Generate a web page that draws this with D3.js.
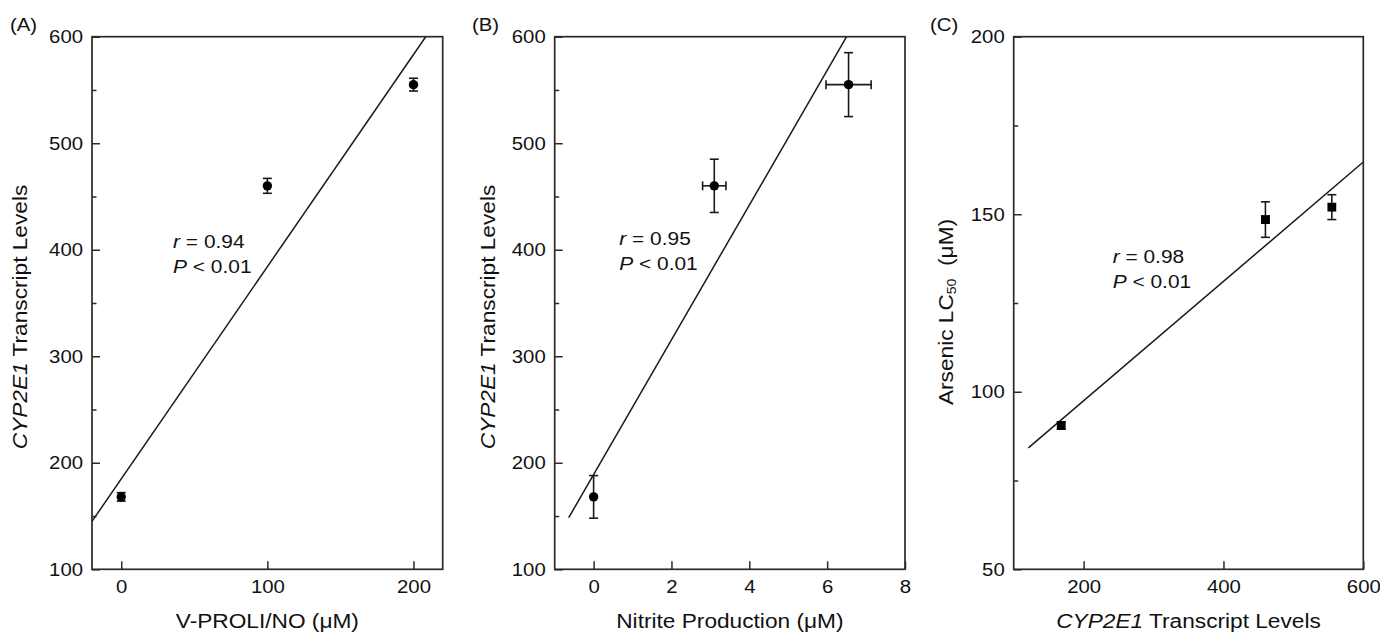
<!DOCTYPE html>
<html><head><meta charset="utf-8">
<script src="https://cdn.jsdelivr.net/npm/d3@7"></script>
<style>
html,body{margin:0;padding:0;background:#fff;}
svg{display:block;font-family:"Liberation Sans",Arial,Helvetica,sans-serif;}
</style></head>
<body>
<svg id="chart" width="1380" height="634"></svg>
<script>
// ---------- DATA ----------
const panelLabels = ["(A)", "(B)", "(C)"];

// Panel A: CYP2E1 vs V-PROLI/NO
const aX = [0, 100, 200];
const aY = [168, 460, 555];
const aYErr = [4, 7, 6];
const aXErr = [0, 0, 0];
const aFit = [[-20, 145], [208.4, 600]];
const aXTicks = [0, 100, 200];
const aYTicks = [100, 200, 300, 400, 500, 600];
const aYMinor = [150, 250, 350, 450, 550];
const aStats = ["0.94", "0.01"];

// Panel B: CYP2E1 vs Nitrite production
const bX = [0, 3.1, 6.55];
const bY = [168, 460, 555];
const bYErr = [20, 25, 30];
const bXErr = [0, 0.3, 0.58];
const bFit = [[-0.64, 148.5], [6.5, 600]];
const bXTicks = [0, 2, 4, 6, 8];
const bYTicks = [100, 200, 300, 400, 500, 600];
const bYMinor = [150, 250, 350, 450, 550];
const bStats = ["0.95", "0.01"];

// Panel C: Arsenic LC50 vs CYP2E1
const cX = [168, 460, 555];
const cY = [90.5, 148.5, 152];
const cYErr = [1, 5, 3.5];
const cXErr = [0, 5, 0];
const cFit = [[121, 84.2], [600, 164.7]];
const cXTicks = [200, 400, 600];
const cYTicks = [50, 100, 150, 200];
const cYMinor = [75, 125, 175];
const cStats = ["0.98", "0.01"];

// ---------- LAYOUT / STYLE ----------
const INK = "#111";
const LINE = "#2a2a2a";
const SX = 1.1;   // horizontal glyph stretch of the original typeface
const panels = [
  {label: panelLabels[0], xs: aX, ys: aY, ye: aYErr, xe: aXErr, fit: aFit, xt: aXTicks, yt: aYTicks, ym: aYMinor, stats: aStats,
   left: 92, right: 442.7, xd: [-20, 220], yd: [100, 600], marker: "circle",
   xTitle: [{t: "V-PROLI/NO (\u03bcM)"}],
   yTitle: [{t: "CYP2E1", i: true}, {t: " Transcript Levels"}], yTitleX: 27, yTitleY: 317,
   ann: [35.5, 401.6, 378.2], labelX: 10},
  {label: panelLabels[1], xs: bX, ys: bY, ye: bYErr, xe: bXErr, fit: bFit, xt: bXTicks, yt: bYTicks, ym: bYMinor, stats: bStats,
   left: 554.7, right: 905, xd: [-1, 8], yd: [100, 600], marker: "circle",
   xTitle: [{t: "Nitrite Production (\u03bcM)"}],
   yTitle: [{t: "CYP2E1", i: true}, {t: " Transcript Levels"}], yTitleX: 495, yTitleY: 317,
   ann: [0.66, 404.4, 381], labelX: 472},
  {label: panelLabels[2], xs: cX, ys: cY, ye: cYErr, xe: cXErr, fit: cFit, xt: cXTicks, yt: cYTicks, ym: cYMinor, stats: cStats,
   left: 1013.7, right: 1363.3, xd: [100, 600], yd: [50, 200], marker: "square",
   xTitle: [{t: "CYP2E1", i: true}, {t: " Transcript Levels"}],
   yTitle: [{t: "Arsenic LC"}, {t: "50", sub: true}, {t: "\u00a0\u00a0(\u03bcM)"}], yTitleX: 953, yTitleY: 312,
   ann: [241.6, 136.3, 129.2], labelX: 930}
];
const TOP = 36.7, BOTTOM = 569.3;

const svg = d3.select("#chart");

function addSpans(textSel, parts, size) {
  parts.forEach(p => {
    const ts = textSel.append("tspan").text(p.t);
    if (p.i) ts.attr("font-style", "italic");
    if (p.sub) ts.attr("font-size", size * 0.62).attr("baseline-shift", "-22%");
  });
}

panels.forEach(P => {
  const x = d3.scaleLinear().domain(P.xd).range([P.left, P.right]);
  const y = d3.scaleLinear().domain(P.yd).range([BOTTOM, TOP]);
  const g = svg.append("g");

  // minor y ticks
  g.append("g").attr("transform", `translate(${P.left},0)`)
    .call(d3.axisLeft(y).tickValues(P.ym).tickSize(-4.5).tickFormat(""))
    .call(s => s.select(".domain").remove())
    .call(s => s.selectAll("line").attr("stroke", LINE).attr("stroke-width", 1.5));

  // major y axis
  g.append("g").attr("transform", `translate(${P.left},0)`)
    .call(d3.axisLeft(y).tickValues(P.yt).tickSize(-8).tickPadding(9).tickFormat(d3.format("d")))
    .call(s => s.select(".domain").remove())
    .call(s => s.selectAll("line").attr("stroke", LINE).attr("stroke-width", 1.5))
    .call(s => s.selectAll("text").attr("font-size", 18.5).attr("fill", INK)
      .attr("font-family", "'Liberation Sans',Arial,sans-serif")
      .attr("x", -9 / SX).attr("transform", `scale(${SX},1)`));

  // x axis
  g.append("g").attr("transform", `translate(0,${BOTTOM})`)
    .call(d3.axisBottom(x).tickValues(P.xt).tickSize(-8).tickPadding(11).tickFormat(d3.format("d")))
    .call(s => s.select(".domain").remove())
    .call(s => s.selectAll("line").attr("stroke", LINE).attr("stroke-width", 1.5))
    .call(s => s.selectAll("text").attr("font-size", 18.5).attr("fill", INK)
      .attr("font-family", "'Liberation Sans',Arial,sans-serif")
      .attr("transform", `scale(${SX},1)`));

  // frame
  g.append("rect").attr("x", P.left).attr("y", TOP)
    .attr("width", P.right - P.left).attr("height", BOTTOM - TOP)
    .attr("fill", "none").attr("stroke", LINE).attr("stroke-width", 1.7);

  // fit line
  g.append("path").datum(P.fit)
    .attr("d", d3.line().x(d => x(d[0])).y(d => y(d[1])))
    .attr("fill", "none").attr("stroke", "#1a1a1a").attr("stroke-width", 1.5);

  // data rows
  const rows = P.xs.map((v, i) => ({x: v, y: P.ys[i], ye: P.ye[i], xe: P.xe[i]}));
  const eb = g.append("g").attr("stroke", "#1a1a1a").attr("stroke-width", 1.6).attr("fill", "none");
  const cap = 4.5;
  rows.forEach(r => {
    if (r.ye > 0) {
      const y1 = y(r.y - r.ye), y2 = y(r.y + r.ye), cx = x(r.x);
      eb.append("line").attr("x1", cx).attr("x2", cx).attr("y1", y1).attr("y2", y2);
      eb.append("line").attr("x1", cx - cap).attr("x2", cx + cap).attr("y1", y1).attr("y2", y1);
      eb.append("line").attr("x1", cx - cap).attr("x2", cx + cap).attr("y1", y2).attr("y2", y2);
    }
    if (r.xe > 0) {
      const x1 = x(r.x - r.xe), x2 = x(r.x + r.xe), cy = y(r.y);
      eb.append("line").attr("x1", x1).attr("x2", x2).attr("y1", cy).attr("y2", cy);
      eb.append("line").attr("x1", x1).attr("x2", x1).attr("y1", cy - cap).attr("y2", cy + cap);
      eb.append("line").attr("x1", x2).attr("x2", x2).attr("y1", cy - cap).attr("y2", cy + cap);
    }
  });
  if (P.marker === "circle") {
    g.selectAll("circle.pt").data(rows).join("circle").attr("class", "pt")
      .attr("cx", d => x(d.x)).attr("cy", d => y(d.y)).attr("r", 4.7).attr("fill", "#000");
  } else {
    g.selectAll("rect.pt").data(rows).join("rect").attr("class", "pt")
      .attr("x", d => x(d.x) - 4.4).attr("y", d => y(d.y) - 4.4)
      .attr("width", 8.8).attr("height", 8.8).attr("fill", "#000");
  }

  // statistics annotation
  const ax = x(P.ann[0]);
  const t1 = g.append("text").attr("font-size", 19).attr("fill", INK)
    .attr("transform", `translate(${ax},${y(P.ann[1])}) scale(${SX},1)`);
  t1.append("tspan").attr("font-style", "italic").text("r");
  t1.append("tspan").text(" = " + P.stats[0]);
  const t2 = g.append("text").attr("font-size", 19).attr("fill", INK)
    .attr("transform", `translate(${ax},${y(P.ann[2])}) scale(${SX},1)`);
  t2.append("tspan").attr("font-style", "italic").text("P");
  t2.append("tspan").text(" < " + P.stats[1]);

  // x title
  const xt = g.append("text").attr("font-size", 21).attr("fill", INK).attr("text-anchor", "middle")
    .attr("transform", `translate(${(P.left + P.right) / 2},628) scale(1.08,1)`);
  addSpans(xt, P.xTitle, 21);

  // y title
  const yt = g.append("text").attr("font-size", 21).attr("fill", INK).attr("text-anchor", "middle")
    .attr("transform", `translate(${P.yTitleX},${P.yTitleY}) rotate(-90) scale(1.08,1)`);
  addSpans(yt, P.yTitle, 21);

  // panel label
  g.append("text").attr("font-size", 18.5).attr("fill", INK)
    .attr("transform", `translate(${P.labelX},31) scale(${SX},1)`).text(P.label);
});
</script>
</body></html>
